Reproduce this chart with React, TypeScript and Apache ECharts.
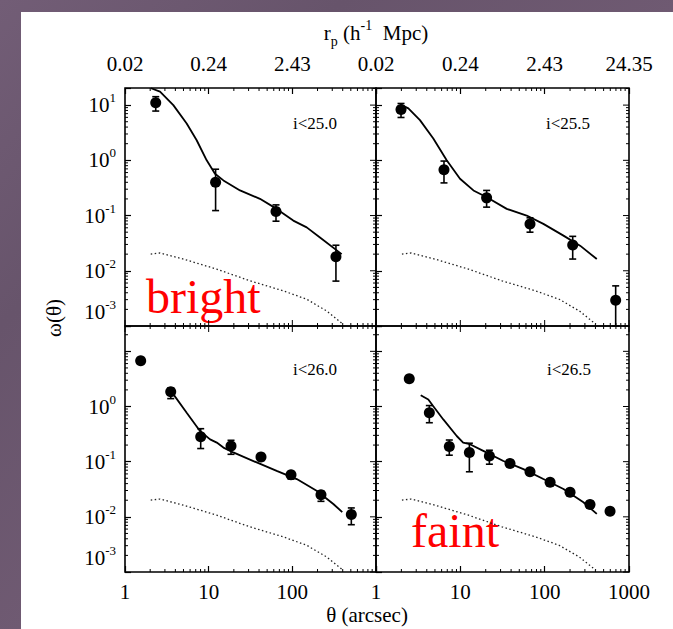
import React, { useEffect, useRef } from "react";
import * as echarts from "echarts";

const FONT = "'Liberation Serif', 'Times New Roman', serif";

// ---- axis tick labels ----
const RP_LABELS = ["0.02", "0.24", "2.43", "24.35"];
const THETA_LABELS = ["1", "10", "100", "1000"];
const PANEL_LABELS = ["i<25.0", "i<25.5", "i<26.0", "i<26.5"];
const X_MAJOR = [1, 10, 100, 1000];
const Y_MAJOR = [0.001, 0.01, 0.1, 1, 10];
const MINOR_MANT = [2, 3, 4, 5, 6, 7, 8, 9];

// ---- panel 1: i<25.0 ----
const p1Theta = [2.33, 12.1, 63.8, 332];
const p1W = [11.0, 0.4, 0.118, 0.018];
const p1Lo = [7.8, 0.123, 0.079, 0.0065];
const p1Hi = [14.2, 0.69, 0.156, 0.029];
const m1Theta = [2.05, 2.62, 3.78, 5.46, 7.19, 9.47, 11.9, 15.0, 23.7, 41.0, 64.9, 102.6, 148.5, 214, 389];
const m1W = [20.2, 17.5, 10, 4.65, 2.31, 1.0, 0.573, 0.433, 0.285, 0.201, 0.132, 0.081, 0.061, 0.04, 0.02];

// ---- panel 2: i<25.5 ----
const p2Theta = [1.98, 6.4, 20.5, 67, 215, 695];
const p2W = [8.35, 0.678, 0.209, 0.0705, 0.0293, 0.00293];
const p2Lo = [5.97, 0.39, 0.142, 0.05, 0.0163, 0.001];
const p2Hi = [10.7, 0.97, 0.285, 0.091, 0.042, 0.00533];
const m2Theta = [2.02, 2.42, 3.32, 4.78, 6.89, 9.91, 14.3, 20.6, 35.5, 61.2, 96.5, 167, 263, 415];
const m2W = [10, 8.71, 5.34, 2.48, 1.0, 0.464, 0.285, 0.215, 0.132, 0.1, 0.0706, 0.0433, 0.0285, 0.0163];

// ---- panel 3: i<26.0 ----
const p3Theta = [1.54, 3.52, 8.03, 18.5, 42.2, 96.4, 220, 507];
const p3W = [6.74, 1.86, 0.284, 0.193, 0.122, 0.058, 0.0252, 0.011];
const p3Lo = [6.0, 1.39, 0.173, 0.136, 0.105, 0.0484, 0.0191, 0.0072];
const p3Hi = [7.6, 2.17, 0.396, 0.244, 0.14, 0.0655, 0.029, 0.0145];
const m3Theta = [3.61, 5.46, 7.87, 10.4, 12.5, 15.0, 19.7, 37.5, 65, 113, 195, 309, 395];
const m3W = [1.84, 0.769, 0.359, 0.254, 0.222, 0.18, 0.147, 0.0968, 0.0683, 0.0484, 0.0298, 0.0171, 0.0122];

// ---- panel 4: i<26.5 ----
const p4Theta = [2.48, 4.29, 7.4, 12.8, 22.1, 38.8, 67, 116, 200, 345, 596];
const p4W = [3.2, 0.77, 0.188, 0.146, 0.127, 0.0927, 0.0656, 0.0422, 0.0279, 0.0167, 0.0126];
const p4Lo = [3.2, 0.508, 0.131, 0.0656, 0.09, 0.08, 0.058, 0.038, 0.025, 0.0145, 0.0115];
const p4Hi = [3.2, 1.04, 0.247, 0.216, 0.161, 0.106, 0.073, 0.047, 0.031, 0.0192, 0.0138];
const m4Theta = [3.39, 4.17, 4.78, 6.28, 9.06, 10.8, 13.0, 18.7, 32.4, 55.9, 96.5, 167, 288, 415];
const m4W = [1.6, 1.34, 1.01, 0.583, 0.292, 0.222, 0.207, 0.157, 0.103, 0.0733, 0.0484, 0.032, 0.0184, 0.0113];

// ---- dotted curve (same in every panel) ----
const dTheta = [2.03, 2.62, 4.98, 12.5, 31.2, 78.0, 148.5, 258, 406];
const dW = [0.0201, 0.021, 0.0163, 0.0107, 0.00658, 0.00433, 0.00305, 0.00187, 0.00107];

const PANELS = [
  { t: p1Theta, w: p1W, lo: p1Lo, hi: p1Hi, mt: m1Theta, mw: m1W },
  { t: p2Theta, w: p2W, lo: p2Lo, hi: p2Hi, mt: m2Theta, mw: m2W },
  { t: p3Theta, w: p3W, lo: p3Lo, hi: p3Hi, mt: m3Theta, mw: m3W },
  { t: p4Theta, w: p4W, lo: p4Lo, hi: p4Hi, mt: m4Theta, mw: m4W },
];

const GRIDS = [
  { left: 125, top: 88, width: 251, height: 238 },
  { left: 376, top: 88, width: 253, height: 238 },
  { left: 125, top: 326, width: 251, height: 246 },
  { left: 376, top: 326, width: 253, height: 246 },
];
const Y_MIN = 0.001;
const Y_MAX = [20.4, 20.4, 28.8, 28.8];

function isPow(v: number) {
  const e = Math.log10(v);
  return Math.abs(e - Math.round(e)) < 1e-6;
}

function tickData(i: number) {
  const top = i < 2;
  const ymax = Y_MAX[i];
  const d: number[][] = [];
  X_MAJOR.forEach((x) => {
    if (top) d.push([x, Y_MIN, 0, 6]);
    else d.push([x, ymax, 1, 6]);
  });
  for (let k = 0; k < 3; k++) {
    MINOR_MANT.forEach((m) => {
      const x = m * Math.pow(10, k);
      d.push([x, Y_MIN, 0, 3]);
      d.push([x, ymax, 1, 3]);
    });
  }
  Y_MAJOR.forEach((y) => {
    if (y <= ymax) d.push([1000, y, 3, 6]);
  });
  for (let k = -3; k <= 1; k++) {
    MINOR_MANT.forEach((m) => {
      const y = m * Math.pow(10, k);
      if (y < ymax) {
        d.push([1, y, 2, 3]);
        d.push([1000, y, 3, 3]);
      }
    });
  }
  return d;
}

function buildOption() {
  const grid = GRIDS.map((g) => ({
    ...g,
    show: true,
    borderColor: "#000",
    borderWidth: 1.6,
    backgroundColor: "transparent",
  }));

  const xAxis = GRIDS.map((_, i) => ({
    type: "log",
    logBase: 10,
    gridIndex: i,
    min: 1,
    max: 1000,
    position: i < 2 ? "top" : "bottom",
    axisLine: { show: false },
    splitLine: { show: false },
    minorTick: { show: false },
    axisTick: { show: true, inside: true, length: 6, lineStyle: { color: "#000", width: 1.2 } },
    axisLabel: {
      show: true,
      margin: i < 2 ? 14 : 9,
      color: "#000",
      fontFamily: FONT,
      fontSize: 21,
      formatter: (v: number) => {
        if (!isPow(v)) return "";
        const r = Math.round(Math.log10(v));
        if (i % 2 === 0 && r === 3) return "";
        return i < 2 ? RP_LABELS[r] : THETA_LABELS[r];
      },
    },
  }));

  const yAxis = GRIDS.map((_, i) => ({
    type: "log",
    logBase: 10,
    gridIndex: i,
    min: Y_MIN,
    max: Y_MAX[i],
    position: "left",
    axisLine: { show: false },
    splitLine: { show: false },
    minorTick: { show: false },
    axisTick: { show: true, inside: true, length: 6, lineStyle: { color: "#000", width: 1.2 } },
    axisLabel: {
      show: i % 2 === 0,
      margin: 9,
      verticalAlignMinLabel: "bottom",
      formatter: (v: number) => {
        if (!isPow(v)) return "";
        const r = Math.round(Math.log10(v));
        if (i >= 2 && r === 1) return "";
        return `{b|10}{s|${r}}`;
      },
      rich: {
        b: { fontSize: 21, fontFamily: FONT, color: "#000", lineHeight: 28 },
        s: { fontSize: 13, fontFamily: FONT, color: "#000", verticalAlign: "top" },
      },
    },
  }));

  const series: any[] = [];
  PANELS.forEach((p, i) => {
    series.push({
      type: "custom",
      xAxisIndex: i,
      yAxisIndex: i,
      silent: true,
      clip: false,
      data: tickData(i),
      encode: { x: 0, y: 1 },
      renderItem: (params: any, api: any) => {
        const x = api.value(0), y = api.value(1), dir = api.value(2), L = api.value(3);
        const pt = api.coord([x, y]);
        let x2 = pt[0], y2 = pt[1];
        if (dir === 0) y2 -= L;
        else if (dir === 1) y2 += L;
        else if (dir === 2) x2 += L;
        else x2 -= L;
        return {
          type: "line",
          shape: { x1: pt[0], y1: pt[1], x2, y2 },
          style: { stroke: "#000", lineWidth: 1 },
        };
      },
    });
    series.push({
      type: "line",
      xAxisIndex: i,
      yAxisIndex: i,
      symbol: "none",
      data: dTheta.map((t, k) => [t, dW[k]]),
      lineStyle: { color: "#222", width: 1.3, type: [1.5, 2.5] },
      z: 3,
    });
    series.push({
      type: "line",
      xAxisIndex: i,
      yAxisIndex: i,
      symbol: "none",
      data: p.mt.map((t, k) => [t, p.mw[k]]),
      lineStyle: { color: "#000", width: 1.8 },
      z: 3,
    });
    series.push({
      type: "custom",
      xAxisIndex: i,
      yAxisIndex: i,
      clip: false,
      data: p.t.map((t, k) => [t, p.lo[k], p.hi[k]]),
      encode: { x: 0, y: [1, 2] },
      renderItem: (params: any, api: any) => {
        const x = api.value(0);
        const a = api.coord([x, api.value(1)]);
        const b = api.coord([x, api.value(2)]);
        const hw = 3.5;
        const st = { stroke: "#000", lineWidth: 1.6 };
        return {
          type: "group",
          children: [
            { type: "line", shape: { x1: a[0], y1: a[1], x2: b[0], y2: b[1] }, style: st },
            { type: "line", shape: { x1: a[0] - hw, y1: a[1], x2: a[0] + hw, y2: a[1] }, style: st },
            { type: "line", shape: { x1: b[0] - hw, y1: b[1], x2: b[0] + hw, y2: b[1] }, style: st },
          ],
        };
      },
      z: 4,
    });
    series.push({
      type: "scatter",
      xAxisIndex: i,
      yAxisIndex: i,
      symbol: "circle",
      symbolSize: 11,
      data: p.t.map((t, k) => [t, p.w[k]]),
      itemStyle: { color: "#000", opacity: 1 },
      z: 5,
    });
  });

  const labelPos = [
    [293, 123],
    [546, 123],
    [293, 369],
    [547, 369],
  ];

  const graphic: any[] = [
    {
      type: "text",
      x: 376,
      y: 33,
      style: {
        text: "{a|r}{p|p}{a| (h}{s|-1}{a|  Mpc)}",
        textAlign: "center",
        textVerticalAlign: "middle",
        rich: {
          a: { fontSize: 21, fontFamily: FONT, fill: "#000", lineHeight: 30 },
          p: { fontSize: 14, fontFamily: FONT, fill: "#000", verticalAlign: "bottom" },
          s: { fontSize: 14, fontFamily: FONT, fill: "#000", verticalAlign: "top" },
        },
      },
    },
    {
      type: "text",
      x: 367,
      y: 615,
      style: {
        text: "θ (arcsec)",
        fontSize: 21,
        fontFamily: FONT,
        fill: "#000",
        textAlign: "center",
        textVerticalAlign: "middle",
      },
    },
    {
      type: "text",
      x: 54,
      y: 318,
      rotation: Math.PI / 2,
      style: {
        text: "ω(θ)",
        fontSize: 21,
        fontFamily: FONT,
        fill: "#000",
        textAlign: "center",
        textVerticalAlign: "middle",
      },
    },
    {
      type: "text",
      x: 146,
      y: 296,
      style: {
        text: "bright",
        fontSize: 48,
        fontFamily: FONT,
        fill: "#ff0000",
        textAlign: "left",
        textVerticalAlign: "middle",
      },
    },
    {
      type: "text",
      x: 411,
      y: 530,
      style: {
        text: "faint",
        fontSize: 48,
        fontFamily: FONT,
        fill: "#ff0000",
        textAlign: "left",
        textVerticalAlign: "middle",
      },
    },
  ];
  PANEL_LABELS.forEach((t, i) => {
    graphic.push({
      type: "text",
      x: labelPos[i][0],
      y: labelPos[i][1],
      style: {
        text: t,
        fontSize: 17,
        fontFamily: FONT,
        fill: "#000",
        textAlign: "left",
        textVerticalAlign: "middle",
      },
    });
  });

  return {
    animation: false,
    backgroundColor: "transparent",
    grid,
    xAxis,
    yAxis,
    series,
    graphic,
  };
}

const PURPLE = "linear-gradient(135deg, #725d76 0%, #67546b 50%, #6f5a72 100%)";

export default function App() {
  const ref = useRef<HTMLDivElement>(null);
  useEffect(() => {
    document.documentElement.style.background = "#fff";
    document.body.style.background = "#fff";
    document.body.style.margin = "0";
    document.body.style.overflow = "hidden";
    if (!ref.current) return;
    const chart = echarts.init(ref.current, null, { renderer: "svg", width: 673, height: 629 });
    chart.setOption(buildOption() as any);
    return () => chart.dispose();
  }, []);
  return (
    <div style={{ position: "fixed", left: 0, top: 0, width: 673, height: 629, background: "#fff" }}>
      <div style={{ position: "absolute", left: 0, top: 0, width: 673, height: 12, background: PURPLE }} />
      <div style={{ position: "absolute", left: 0, top: 0, width: 21, height: 629, background: PURPLE }} />
      <div ref={ref} style={{ position: "absolute", left: 0, top: 0, width: 673, height: 629 }} />
    </div>
  );
}
